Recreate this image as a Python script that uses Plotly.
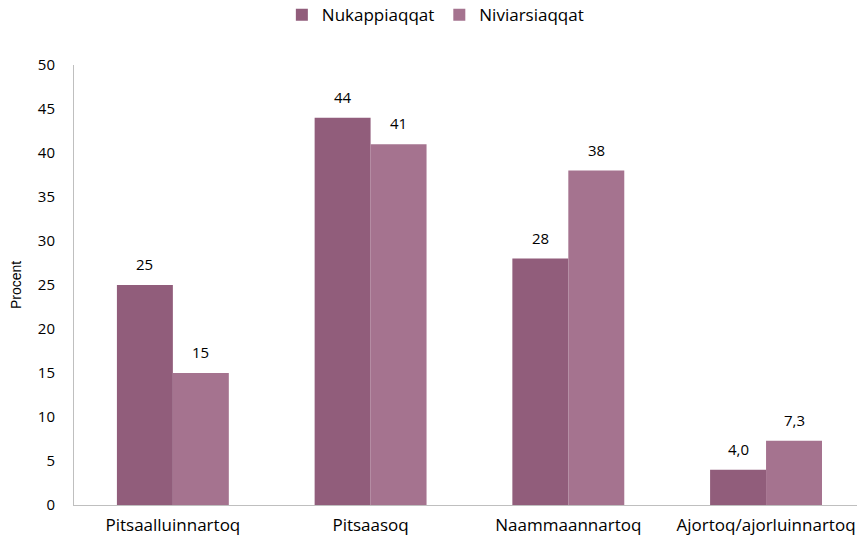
import plotly.graph_objects as go

categories = ["Pitsaalluinnartoq", "Pitsaasoq", "Naammaannartoq", "Ajortoq/ajorluinnartoq"]
series_names = ["Nukappiaqqat", "Niviarsiaqqat"]
nukappiaqqat = [25, 44, 28, 4.0]
niviarsiaqqat = [15, 41, 38, 7.3]
nukappiaqqat_labels = ["25", "44", "28", "4,0"]
niviarsiaqqat_labels = ["15", "41", "38", "7,3"]
y_ticks = [0, 5, 10, 15, 20, 25, 30, 35, 40, 45, 50]

colors = ["#915D7B", "#A5738F"]
FONT = "Open Sans, Lato, sans-serif"

fig = go.Figure()
fig.add_trace(go.Bar(name=series_names[0], x=categories, y=nukappiaqqat,
                     marker=dict(color=colors[0], line=dict(width=0))))
fig.add_trace(go.Bar(name=series_names[1], x=categories, y=niviarsiaqqat,
                     marker=dict(color=colors[1], line=dict(width=0))))

annotations = []
for vals, labs, shift in [(nukappiaqqat, nukappiaqqat_labels, -28),
                          (niviarsiaqqat, niviarsiaqqat_labels, 28)]:
    for c, v, t in zip(categories, vals, labs):
        annotations.append(dict(x=c, y=v, text=t, showarrow=False, xref="x", yref="y",
                                xshift=shift, yshift=9, yanchor="bottom",
                                font=dict(family=FONT, size=15, color="#000000")))

fig.update_layout(
    width=857, height=543,
    margin=dict(l=74, r=0, t=65, b=38, autoexpand=False),
    paper_bgcolor="white", plot_bgcolor="white",
    barmode="group", bargap=0.434, bargroupgap=0,
    font=dict(family=FONT, size=14, color="#000000"),
    legend=dict(orientation="h", xref="container", yref="container",
                x=0.508, xanchor="center", y=0.972, yanchor="middle",
                font=dict(family=FONT, size=17, color="#000000"),
                itemwidth=30, traceorder="normal"),
    annotations=annotations,
    showlegend=True,
)
fig.update_xaxes(range=[-0.5, 3.46], showline=True, linecolor="#BFBFBF", linewidth=1,
                 ticks="", showgrid=False, zeroline=False, automargin=False,
                 tickfont=dict(family=FONT, size=17), ticklabelstandoff=5)
fig.update_yaxes(range=[0, 50], tickvals=y_ticks, showline=True, linecolor="#BFBFBF",
                 linewidth=1, ticks="", showgrid=False, zeroline=False, automargin=False,
                 tickfont=dict(family=FONT, size=15), ticklabelstandoff=15,
                 title=dict(text="Procent", font=dict(family="Liberation Sans, Arial, sans-serif", size=14),
                            standoff=12))

fig.write_html("out.html", config={"displayModeBar": False},
               post_script="document.body.style.margin='0';")
